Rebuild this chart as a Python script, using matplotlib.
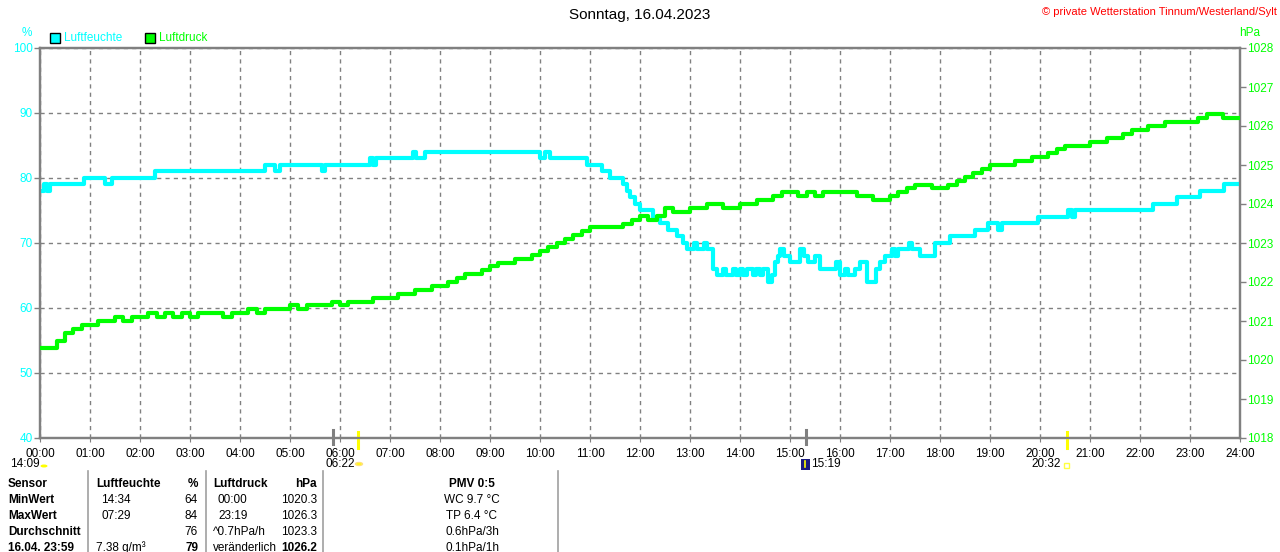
import matplotlib
matplotlib.use("Agg")
import matplotlib.pyplot as plt
from matplotlib.patches import Rectangle, Circle
from matplotlib.lines import Line2D
import numpy as np

plt.rcParams['font.family'] = ['Liberation Sans', 'DejaVu Sans']

W, H = 1280, 552

# humidity (%), step values: start hour -> value
hum_t = [0.0, 0.08, 0.13, 0.2, 0.87, 1.3, 1.44, 2.3, 4.5, 4.7, 4.8, 5.64, 5.7,
         6.6, 6.66, 6.72, 7.46, 7.52, 7.7, 10.0, 10.1, 10.2, 10.3, 10.94, 11.24,
         11.4, 11.66, 11.74, 11.8, 11.9, 12.0, 12.26, 12.4, 12.56, 12.74, 12.86,
         12.94, 13.08, 13.14, 13.28, 13.34, 13.46, 13.54, 13.66, 13.72, 13.86,
         13.92, 14.0, 14.06, 14.14, 14.26, 14.32, 14.4, 14.46, 14.56, 14.64,
         14.7, 14.76, 14.8, 14.88, 15.0, 15.2, 15.28, 15.36, 15.5, 15.6, 15.86,
         15.92, 16.0, 16.1, 16.16, 16.3, 16.4, 16.5, 16.54, 16.72, 16.8, 16.9,
         17.04, 17.1, 17.16, 17.38, 17.44, 17.6, 17.9, 18.2, 18.7, 18.96, 19.16,
         19.24, 19.96, 20.56, 20.64, 20.7, 22.26, 22.74, 23.2, 23.68, 24.0]
hum_v = [78, 79, 78, 79, 80, 79, 80, 81, 82, 81, 82, 81, 82,
         83, 82, 83, 84, 83, 84, 83, 84, 83, 83, 82, 81,
         80, 79, 78, 77, 76, 75, 74, 73, 72, 71, 70,
         69, 70, 69, 70, 69, 66, 65, 66, 65, 66,
         65, 66, 65, 66, 65, 66, 65, 66, 64, 65,
         67, 68, 69, 68, 67, 69, 68, 67, 68, 66, 66,
         67, 65, 66, 65, 66, 67, 67, 64, 66, 67, 68,
         69, 68, 69, 70, 69, 68, 70, 71, 72, 73, 72,
         73, 74, 75, 74, 75, 76, 77, 78, 79, 79]

# air pressure (hPa), every 10 minutes from 00:00 to 24:00
pres = [1020.3, 1020.3, 1020.5, 1020.7, 1020.8, 1020.9,
        1020.9, 1021.0, 1021.0, 1021.1, 1021.0, 1021.1,
        1021.1, 1021.2, 1021.1, 1021.2, 1021.1, 1021.2,
        1021.1, 1021.2, 1021.2, 1021.2, 1021.1, 1021.2,
        1021.2, 1021.3, 1021.2, 1021.3, 1021.3, 1021.3,
        1021.4, 1021.3, 1021.4, 1021.4, 1021.4, 1021.5,
        1021.4, 1021.5, 1021.5, 1021.5, 1021.6, 1021.6,
        1021.6, 1021.7, 1021.7, 1021.8, 1021.8, 1021.9,
        1021.9, 1022.0, 1022.1, 1022.2, 1022.2, 1022.3,
        1022.4, 1022.5, 1022.5, 1022.6, 1022.6, 1022.7,
        1022.8, 1022.9, 1023.0, 1023.1, 1023.2, 1023.3,
        1023.4, 1023.4, 1023.4, 1023.4, 1023.5, 1023.6,
        1023.7, 1023.6, 1023.7, 1023.9, 1023.8, 1023.8,
        1023.9, 1023.9, 1024.0, 1024.0, 1023.9, 1023.9,
        1024.0, 1024.0, 1024.1, 1024.1, 1024.2, 1024.3,
        1024.3, 1024.2, 1024.3, 1024.2, 1024.3, 1024.3,
        1024.3, 1024.3, 1024.2, 1024.2, 1024.1, 1024.1,
        1024.2, 1024.3, 1024.4, 1024.5, 1024.5, 1024.4,
        1024.4, 1024.5, 1024.6, 1024.7, 1024.8, 1024.9,
        1025.0, 1025.0, 1025.0, 1025.1, 1025.1, 1025.2,
        1025.2, 1025.3, 1025.4, 1025.5, 1025.5, 1025.5,
        1025.6, 1025.6, 1025.7, 1025.7, 1025.8, 1025.9,
        1025.9, 1026.0, 1026.0, 1026.1, 1026.1, 1026.1,
        1026.1, 1026.2, 1026.3, 1026.3, 1026.2, 1026.2,
        1026.2]
pres_t = np.arange(len(pres)) / 6.0

hour_labels = ["%02d:00" % h for h in range(25)]

# sun / moon markers (hours)
moon_marks = [5.85, 15.317]
sun_marks = [6.367, 20.533]

table_rows = [
    ["Sensor", "Luftfeuchte", "%", "Luftdruck", "hPa", "PMV 0:5"],
    ["MinWert", "14:34", "64", "00:00", "1020.3", "WC 9.7 °C"],
    ["MaxWert", "07:29", "84", "23:19", "1026.3", "TP 6.4 °C"],
    ["Durchschnitt", "", "76", "^0.7hPa/h", "1023.3", "0.6hPa/3h"],
    ["16.04. 23:59", "7.38 g/m³", "79", "veränderlich", "1026.2", "0.1hPa/1h"],
]

CYAN = "#00ffff"
GREEN = "#00ff00"
GRAY = "#808080"


def fx(x):
    return x / W


def fy(y):
    return 1 - y / H


fig = plt.figure(figsize=(W / 100, H / 100), dpi=100)
ax = fig.add_axes([fx(40), fy(438), 1200 / W, 390 / H])
ax2 = ax.twinx()

ax.plot(hum_t, hum_v, color=CYAN, lw=3.0, drawstyle="steps-post", zorder=3)
ax2.plot(pres_t, pres, color=GREEN, lw=3.0, drawstyle="steps-post", zorder=3)

ax.set_xlim(0, 24)
ax.set_ylim(40, 100)
ax2.set_ylim(1018, 1028)
ax.set_xticks(range(25))
ax.set_xticklabels(hour_labels, fontsize=8.5)
ax.set_yticks(range(40, 101, 10))
ax.tick_params(axis="y", colors=CYAN, labelsize=8.5, length=4, width=1, pad=1)
ax.tick_params(axis="y", color=GRAY)
ax.tick_params(axis="x", labelsize=8.5, length=3, color=GRAY, pad=4)
ax2.set_yticks(range(1018, 1029))
ax2.tick_params(axis="y", colors=GREEN, labelsize=8.5, length=4, width=1, pad=1)
ax2.tick_params(axis="y", color=GRAY)

ax.grid(True, color=GRAY, linestyle=(0, (3, 3)), linewidth=1)
for a in (ax, ax2):
    for s in a.spines.values():
        s.set_color(GRAY)
        s.set_linewidth(1.6)

# time markers below the axis
for t in moon_marks:
    ax.plot([t, t], [-0.015, 0.02], color=GRAY, lw=2.2, transform=ax.get_xaxis_transform(),
            clip_on=False, zorder=5)
for t in sun_marks:
    ax.plot([t, t], [-0.025, 0.015], color="#ffff00", lw=2.2, transform=ax.get_xaxis_transform(),
            clip_on=False, zorder=5)

# header texts
fig.text(0.5, fy(15), "Sonntag, 16.04.2023", ha="center", va="center", fontsize=11)
fig.text(fx(1277), fy(12), "© private Wetterstation Tinnum/Westerland/Sylt", ha="right",
         va="center", fontsize=8, color="red")
fig.text(fx(27), fy(33), "%", ha="center", va="center", fontsize=8.5, color=CYAN)
fig.text(fx(1250), fy(33), "hPa", ha="center", va="center", fontsize=8.5, color=GREEN)

fig.add_artist(Rectangle((fx(50), fy(43)), 10 / W, 10 / H, facecolor=CYAN, edgecolor="black",
                         lw=1, transform=fig.transFigure))
fig.text(fx(64), fy(38), "Luftfeuchte", ha="left", va="center", fontsize=8.5, color=CYAN)
fig.add_artist(Rectangle((fx(145), fy(43)), 10 / W, 10 / H, facecolor=GREEN, edgecolor="black",
                         lw=1, transform=fig.transFigure))
fig.text(fx(159), fy(38), "Luftdruck", ha="left", va="center", fontsize=8.5, color=GREEN)

# sun / moon labels
fig.text(fx(10), fy(464), "14:09", ha="left", va="center", fontsize=8.5)
fig.add_artist(Circle((fx(44), fy(466)), 3.5 / W, facecolor="#ffff00", edgecolor="none",
                      transform=fig.transFigure))
fig.text(fx(355), fy(464), "06:22", ha="right", va="center", fontsize=8.5)
fig.add_artist(Circle((fx(359), fy(464)), 3.5 / W, facecolor="#ffff00", edgecolor="#ffe080",
                      lw=1, transform=fig.transFigure))
fig.add_artist(Rectangle((fx(801), fy(470)), 9 / W, 11 / H, facecolor="#1a1a80",
                         edgecolor="none", transform=fig.transFigure))
fig.add_artist(Line2D([fx(805), fx(805)], [fy(461), fy(467)], color="#ffff00", lw=1.2,
                      transform=fig.transFigure))
fig.text(fx(811), fy(464), "15:19", ha="left", va="center", fontsize=8.5)
fig.text(fx(1061), fy(464), "20:32", ha="right", va="center", fontsize=8.5)
fig.add_artist(Rectangle((fx(1064), fy(468)), 5 / W, 5 / H, facecolor="none",
                         edgecolor="#ffff40", lw=1, transform=fig.transFigure))

# table
for xv in [88, 206, 323, 558]:
    fig.add_artist(Line2D([fx(xv), fx(xv)], [fy(471), 0], color="#a0a0a0", lw=1.2,
                          transform=fig.transFigure))
col_x = [8, 96, 198, 213, 317, 472]
col_ha = ["left", "left", "right", "left", "right", "center"]
row_y = [484, 500, 516, 532, 548]
for r, row in enumerate(table_rows):
    for c, txt in enumerate(row):
        bold = (r == 0 and c != 5) or c == 0 or (r == 4 and c in (2, 4)) or (r == 0)
        xoff = 0
        if r in (1, 2) and c in (1, 3):
            xoff = 5
        fig.text(fx(col_x[c] + xoff), fy(row_y[r]), txt, ha=col_ha[c], va="center",
                 fontsize=8.5, fontweight="bold" if bold else "normal")

fig.savefig("out.png", dpi=100)
